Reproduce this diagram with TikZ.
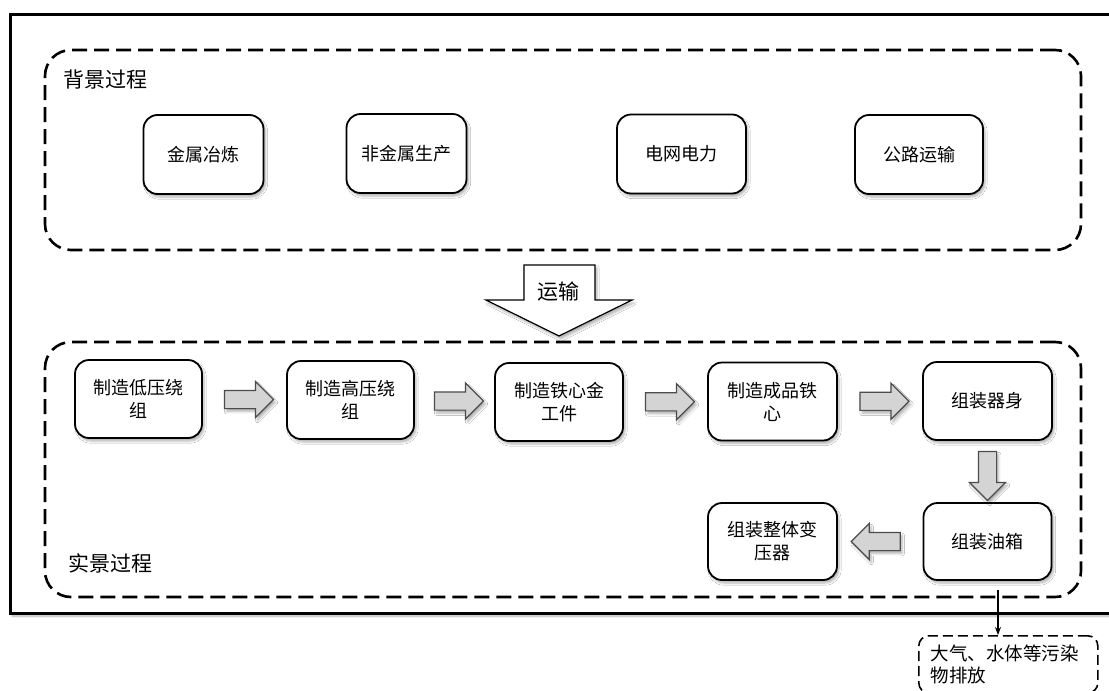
\documentclass[tikz,border=0pt]{standalone}
\usepackage{fontspec}
\setmainfont{Noto Sans CJK SC}
\usetikzlibrary{positioning}
\usetikzlibrary{calc}
\usetikzlibrary{arrows.meta}
\usetikzlibrary{shapes.arrows}
\usetikzlibrary{shadows.blur}

\tikzset{
  softshadow/.style={blur shadow={shadow xshift=2pt, shadow yshift=-3pt, shadow blur steps=6, shadow opacity=30}},
  procbox/.style={draw, line width=1.8pt, rounded corners=14pt, fill=white, minimum height=78pt, align=center, inner sep=0pt, font=\fontsize{18}{23}\selectfont, softshadow},
  stage/.style={draw, line width=2.6pt, dash pattern=on 15pt off 7pt, rounded corners=26pt, inner sep=0pt},
  stagelabel/.style={anchor=west, inner sep=0pt, font=\fontsize{21}{24}\selectfont},
  flow/.style={single arrow, draw=black!70, fill=black!17, line width=1.2pt, inner sep=8.5pt, minimum height=49pt, single arrow head extend=9pt, softshadow},
  emitbox/.style={draw, line width=1.6pt, dash pattern=on 10pt off 5pt, rounded corners=10pt, align=left, text width=155pt, inner xsep=12pt, inner ysep=9pt, font=\fontsize{18.5}{22}\selectfont}
}

\begin{document}
\begin{tikzpicture}[x=1pt,y=-1pt]
\clip (0,0) rectangle (1109,691);
%\draw[help lines, step=50] (0,0) grid (1109,691);
\draw[line width=3pt, fill=white, softshadow] (10,14) rectangle (1125,613);

% background process
\node[stage, minimum width=1036pt, minimum height=200pt] (bg) at (563,150) {};
\node[stagelabel] (bgl) at (63,80) {背景过程};
\node[procbox, minimum width=120pt, minimum height=79pt] (metal) at (203.5,154.5) {金属冶炼};
\node[procbox, minimum width=120pt, minimum height=79pt] (nonmetal) at (406.5,153.5) {非金属生产};
\node[procbox, minimum width=129pt, minimum height=79pt] (grid) at (681.5,154) {电网电力};
\node[procbox, minimum width=128pt, minimum height=79pt] (road) at (919,154.5) {公路运输};

% transport
\draw[line width=1.2pt, fill=white, softshadow] (524,265) -- (595,265) -- (595,300) -- (632,300) -- (559,336) -- (486,300) -- (524,300) -- cycle;
\node[inner sep=0pt, font=\fontsize{21}{24}\selectfont] (trans) at (558,292) {运输};

% foreground process
\node[stage, minimum width=1036pt, minimum height=255pt] (fg) at (563,469.5) {};
\node[stagelabel] (fgl) at (68,563) {实景过程};
\node[procbox, minimum width=127pt] (lv) at (138.5,399) {制造低压绕\\组};
\node[procbox, minimum width=127pt] (hv) at (350.5,400) {制造高压绕\\组};
\node[procbox, minimum width=128pt] (part) at (559,402) {制造铁心金\\工件};
\node[procbox, minimum width=129pt] (core) at (772.5,401.5) {制造成品铁\\心};
\node[procbox, minimum width=129pt] (body) at (987.5,401) {组装器身};
\node[procbox, minimum width=128pt, minimum height=77pt] (tank) at (987.5,541.5) {组装油箱};
\node[procbox, minimum width=129pt, minimum height=77pt] (whole) at (772.5,541.5) {组装整体变\\压器};

\node[flow] (lvhv) at ($(lv.east)!0.5!(hv.west)$) {};
\node[flow] (hvpart) at ($(hv.east)!0.5!(part.west)$) {};
\node[flow] (partcore) at ($(part.east)!0.5!(core.west)$) {};
\node[flow] (corebody) at ($(core.east)!0.5!(body.west)$) {};
\node[flow, rotate=-90] (bodytank) at ($(body.south)!0.5!(tank.north)$) {};
\node[flow, rotate=180] (tankwhole) at ($(tank.west)!0.5!(whole.east)$) {};

% emissions
\coordinate (emit) at (998,590);
\node[emitbox, anchor=north west, minimum width=179pt] (out) at (918,635) {大气、水体等污染\\物排放};
\draw[line width=1.1pt, -{Stealth[length=8pt, width=6pt]}] (emit) -- (emit |- out.north);
\end{tikzpicture}
\end{document}
